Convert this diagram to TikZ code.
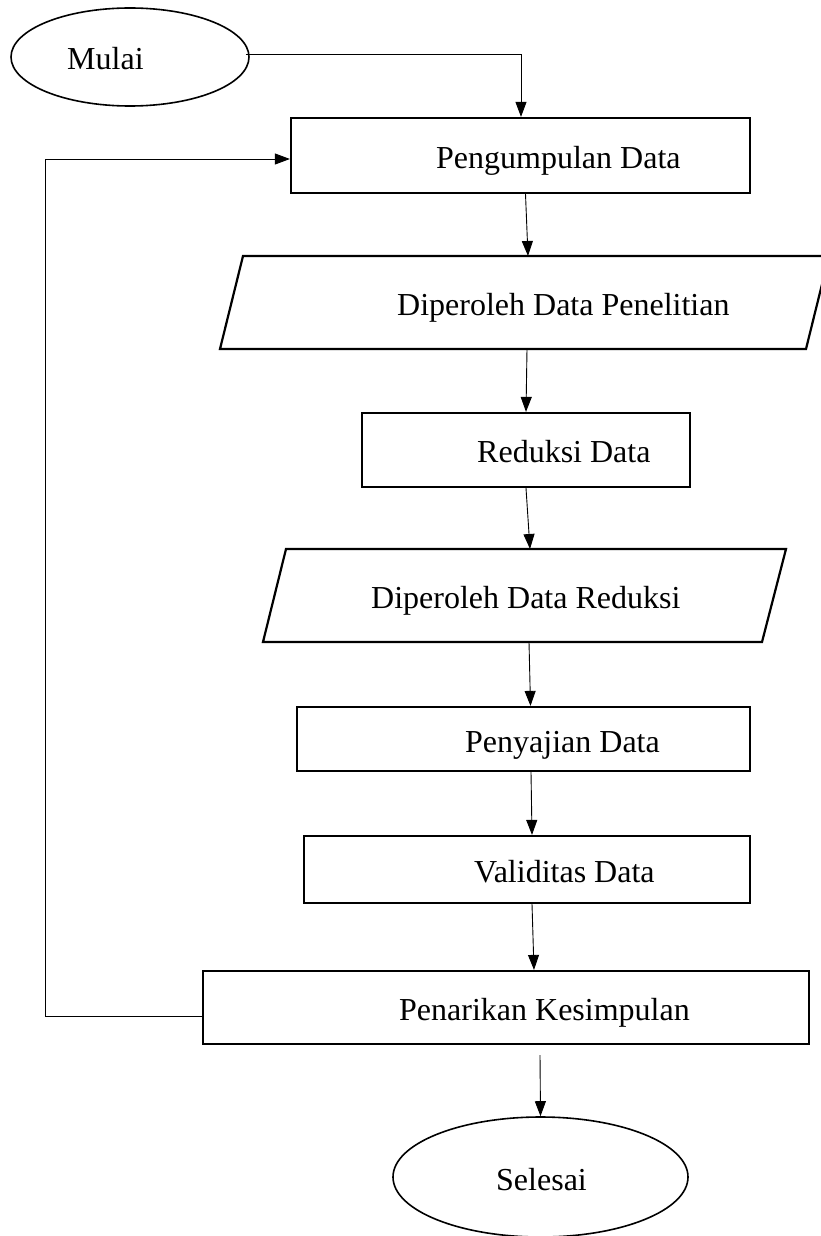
\documentclass[tikz,border=0pt]{standalone}
\usepackage{fontspec}
\setmainfont{Liberation Serif}
\usetikzlibrary{arrows.meta,shapes.geometric}
\begin{document}
\begin{tikzpicture}[x=1pt,y=-1pt,
 box/.style={draw,line width=2.2pt,rectangle,inner sep=0pt},
 oval/.style={draw,line width=1.6pt,ellipse,inner sep=0pt},
 para/.style={draw,line width=2.2pt,line join=miter},
 lbl/.style={font=\fontsize{32}{38}\selectfont,inner sep=0pt,anchor=base west},
 conn/.style={line width=0.9pt,-{Triangle[length=15pt,width=11pt]}},
 plainline/.style={line width=0.9pt}]
\useasboundingbox (0,0) rectangle (821,1236);
\fill[white] (0,0) rectangle (821,1236);

% start
\node[oval,minimum width=238pt,minimum height=98pt] (mulai) at (130,57) {};
\node[lbl] at (67,70) {Mulai};

% Pengumpulan Data
\node[box,minimum width=459pt,minimum height=75pt] (b1) at (520.5,155.5) {};
\node[lbl] at (436,168) {Pengumpulan Data};

% Diperoleh Data Penelitian
\draw[para] (243,256) -- (829,256) -- (806,349) -- (220,349) -- cycle;
\coordinate (p1n) at (528,256);
\coordinate (p1s) at (527,349);
\node[lbl] at (397,315) {Diperoleh Data Penelitian};

% Reduksi Data
\node[box,minimum width=328pt,minimum height=74pt] (b2) at (526,450) {};
\node[lbl] at (477,462) {Reduksi Data};

% Diperoleh Data Reduksi
\draw[para] (286,549) -- (786,549) -- (762,642) -- (263,642) -- cycle;
\coordinate (p2n) at (530,549);
\coordinate (p2s) at (529,642);
\node[lbl] at (371,608) {Diperoleh Data Reduksi};

% Penyajian Data
\node[box,minimum width=453pt,minimum height=64pt] (b3) at (523.5,739) {};
\node[lbl] at (465,752) {Penyajian Data};

% Validitas Data
\node[box,minimum width=446pt,minimum height=67pt] (b4) at (527,869.5) {};
\node[lbl] at (474,882) {Validitas Data};

% Penarikan Kesimpulan
\node[box,minimum width=606pt,minimum height=73pt] (b5) at (506,1007.5) {};
\node[lbl] at (399,1020) {Penarikan Kesimpulan};

% end
\node[oval,minimum width=295pt,minimum height=120pt] (selesai) at (540.5,1177) {};
\node[lbl] at (496,1190) {Selesai};

% connectors
\draw[conn] ([yshift=3pt,xshift=-4pt]mulai.east) -| ([xshift=0.5pt]b1.north);
\draw[conn] ([xshift=5pt]b1.south) -- (p1n);
\draw[conn] (p1s) -- (b2.north);
\draw[conn] (b2.south) -- (p2n);
\draw[conn] (p2s) -- ([xshift=7pt]b3.north);
\draw[conn] ([xshift=7.5pt]b3.south) -- ([xshift=5pt]b4.north);
\draw[conn] ([xshift=5pt]b4.south) -- ([xshift=28pt]b5.north);
\draw[conn] ([xshift=34pt,yshift=-10pt]b5.south) -- (selesai.north);
\coordinate (lp) at (45,1016);
\draw[conn] ([yshift=-8.5pt]b5.west) -- (lp) |- ([yshift=-3.5pt]b1.west);
\end{tikzpicture}
\end{document}
